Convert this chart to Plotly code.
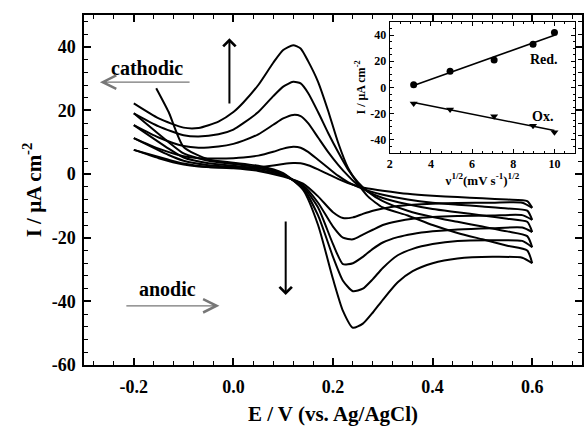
import numpy as np
import plotly.graph_objects as go

# ---------------- main cyclic voltammograms (E in V, I in uA cm-2) ----------------
# forward (anodic) sweep potentials, after each curve's own start point
FWD_E = [-0.13, -0.1, -0.05, 0.0, 0.05, 0.1, 0.14, 0.17, 0.2, 0.22, 0.24, 0.26,
         0.28, 0.3, 0.33, 0.36, 0.4, 0.45, 0.52, 0.58, 0.6]
# reverse (cathodic) sweep potentials
REV_E = [0.6, 0.59, 0.55, 0.5, 0.45, 0.4, 0.35, 0.3, 0.27, 0.25, 0.23, 0.21, 0.19,
         0.17, 0.15, 0.135, 0.12, 0.1, 0.08, 0.05, 0.02, 0.0, -0.03, -0.07, -0.1,
         -0.15, -0.2]

START_E = [-0.155, -0.2, -0.2, -0.2, -0.2]
START_I = [27.0, 19.1, 15.4, 11.3, 7.6]

fwd_c1 = [19.5, 8.5, 4.6, 3.6, 2.6, 0.3, -5, -16, -33, -43, -48.3, -47, -43.5,
          -39.5, -34, -30.5, -28, -26.5, -26, -26.3, -28]
fwd_c2 = [10, 6.5, 4.2, 3.2, 2.2, 0, -4.5, -13, -26, -33.5, -36.8, -36, -33,
          -29.5, -25.5, -23.5, -22, -21, -20.8, -21, -23]
fwd_c3 = [8, 5.2, 3.4, 2.6, 1.8, -0.2, -4, -10.5, -22, -28.3, -28, -26, -23.5,
          -21.5, -19.8, -18.8, -18, -17.4, -17, -16.8, -18.2]
fwd_c4 = [6, 4.2, 2.8, 2.2, 1.4, -0.5, -3.5, -9, -16.5, -20, -20.5, -19, -17.5,
          -16, -14.8, -14, -13.5, -13.2, -13, -12.9, -14.4]
fwd_c5 = [4.5, 3.3, 2.2, 1.8, 1, -0.8, -3, -7, -12, -13.8, -13.6, -12.5, -11.5,
          -10.8, -10, -9.6, -9.3, -9.1, -9, -9, -10.6]

rev_c1 = [-28, -24, -22.5, -20.5, -18.5, -16, -13, -10.5, -7, -3, 2, 10, 20, 29,
          35.5, 39.5, 40.5, 39, 35, 28, 22.5, 19.5, 16.5, 14.5, 14.6, 17.5, 22.2]
rev_c2 = [-23, -19.5, -18, -16.5, -15, -13.5, -11.5, -8.5, -5.5, -2.5, 1.5, 7, 13,
          19.5, 25.5, 28.5, 29, 27.5, 24.5, 19.5, 16, 14, 12.5, 11.8, 12.2, 15, 19.1]
rev_c3 = [-18.2, -15, -14, -13, -12, -11, -9.5, -7.5, -5.5, -3.5, -0.5, 3, 7, 11.5,
          16, 18.2, 18.6, 17.5, 15.5, 12.5, 10.5, 9.5, 8.7, 8.3, 8.8, 11.5, 15.4]
rev_c4 = [-14.4, -11.5, -10.8, -10.2, -9.6, -9, -8, -6.5, -5.2, -4, -2.5, -0.5, 2,
          4.5, 7, 8.3, 8.6, 8, 7, 5.8, 5.2, 5, 4.9, 5, 5.6, 8, 11.3]
rev_c5 = [-10.6, -8.5, -8, -7.6, -7.2, -6.8, -6.2, -5.2, -4.5, -3.8, -2.8, -1.5, 0,
          1.5, 2.8, 3.4, 3.5, 3.2, 2.7, 2.2, 2, 2, 2.1, 2.4, 3, 5, 7.6]

FWD = [fwd_c1, fwd_c2, fwd_c3, fwd_c4, fwd_c5]
REV = [rev_c1, rev_c2, rev_c3, rev_c4, rev_c5]

# ---------------- inset: peak current vs sqrt(scan rate) ----------------
sqrt_rate = [3.16, 4.93, 7.07, 8.96, 10.0]
red_I = [2.0, 12.4, 21.0, 33.0, 42.0]
ox_I = [-12.3, -16.9, -22.0, -29.3, -34.3]

# axis tick labels
x_ticks = [-0.2, 0.0, 0.2, 0.4, 0.6]
x_ticktext = ["-0.2", "0.0", "0.2", "0.4", "0.6"]
y_ticks = [-60, -40, -20, 0, 20, 40]
y_ticktext = ["-60", "-40", "-20", "0", "20", "40"]
ix_ticks = [2, 4, 6, 8, 10]
iy_ticks = [-40, -20, 0, 20, 40]
iy_ticktext = ["-40", "-20", "0", "20", "40"]

SERIF = "Liberation Serif"

fig = go.Figure()

for k in range(5):
    # forward branch (from start point), then reverse branch
    e_f = [START_E[k]] + FWD_E
    i_f = [START_I[k]] + FWD[k]
    fig.add_trace(go.Scatter(x=e_f, y=i_f, mode="lines",
                             line=dict(color="black", width=2, shape="spline", smoothing=0.6),
                             showlegend=False, hoverinfo="skip"))
    fig.add_trace(go.Scatter(x=REV_E, y=REV[k], mode="lines",
                             line=dict(color="black", width=2, shape="spline", smoothing=0.6),
                             showlegend=False, hoverinfo="skip"))

# inset fits
xs = np.array(sqrt_rate)
for vals, sym in [(red_I, "circle"), (ox_I, "triangle-down")]:
    p = np.polyfit(xs, np.array(vals), 1)
    xf = [xs.min(), xs.max()]
    fig.add_trace(go.Scatter(x=xf, y=list(np.polyval(p, xf)), mode="lines",
                             line=dict(color="black", width=1.6),
                             xaxis="x2", yaxis="y2", showlegend=False, hoverinfo="skip"))
    fig.add_trace(go.Scatter(x=sqrt_rate, y=vals, mode="markers",
                             marker=dict(symbol=sym, size=7, color="black"),
                             xaxis="x2", yaxis="y2", showlegend=False, hoverinfo="skip"))

tickfont = dict(family=SERIF, size=18, color="black", weight="bold")
itickfont = dict(family=SERIF, size=12, color="black", weight="bold")

fig.update_layout(
    width=584, height=432,
    margin=dict(l=84, r=0, t=15, b=67),
    paper_bgcolor="white", plot_bgcolor="white",
    xaxis=dict(range=[-0.3, 0.7], tickmode="array", tickvals=x_ticks, ticktext=x_ticktext,
               ticks="inside", ticklen=7, tickwidth=1.5, tickcolor="black",
               ticklabelstandoff=5,
               minor=dict(tickmode="linear", tick0=0, dtick=0.04, ticks="inside",
                          ticklen=4, tickwidth=1, tickcolor="black"),
               showline=True, linecolor="black", linewidth=1.5, mirror="allticks",
               showgrid=False, zeroline=False, tickfont=tickfont,
               title=dict(text="E / V (vs. Ag/AgCl)", standoff=10,
                          font=dict(family=SERIF, size=21, color="black", weight="bold"))),
    yaxis=dict(range=[-60, 50], tickmode="array", tickvals=y_ticks, ticktext=y_ticktext,
               ticks="inside", ticklen=7, tickwidth=1.5, tickcolor="black",
               ticklabelstandoff=3,
               minor=dict(tickmode="linear", tick0=0, dtick=4, ticks="inside",
                          ticklen=4, tickwidth=1, tickcolor="black"),
               showline=True, linecolor="black", linewidth=1.5, mirror="allticks",
               showgrid=False, zeroline=False, tickfont=tickfont,
               title=dict(text="I / μA cm<sup>-2</sup>", standoff=4,
                          font=dict(family=SERIF, size=21, color="black", weight="bold"))),
    xaxis2=dict(domain=[0.614, 0.986], anchor="y2", range=[2, 11],
                tickmode="array", tickvals=ix_ticks,
                ticks="inside", ticklen=4, tickwidth=1, tickcolor="black",
                minor=dict(tickmode="linear", tick0=0, dtick=0.5, ticks="inside",
                           ticklen=2, tickwidth=1, tickcolor="black"),
                showline=True, linecolor="black", linewidth=1, mirror="allticks",
                showgrid=False, zeroline=False, tickfont=itickfont,
                title=dict(text="ν<sup>1/2</sup>(mV s<sup>-1</sup>)<sup>1/2</sup>", standoff=2,
                           font=dict(family=SERIF, size=13, color="black", weight="bold"))),
    yaxis2=dict(domain=[0.606, 0.98], anchor="x2", range=[-50, 50],
                tickmode="array", tickvals=iy_ticks, ticktext=iy_ticktext,
                ticks="inside", ticklen=4, tickwidth=1, tickcolor="black",
                minor=dict(tickmode="linear", tick0=0, dtick=5, ticks="inside",
                           ticklen=2, tickwidth=1, tickcolor="black"),
                showline=True, linecolor="black", linewidth=1, mirror="allticks",
                showgrid=False, zeroline=False, tickfont=itickfont,
                title=dict(text="I / μA cm<sup>-2</sup>", standoff=2,
                           font=dict(family=SERIF, size=12, color="black", weight="bold"))),
)

# inset background
fig.add_shape(type="rect", xref="x2 domain", yref="y2 domain", x0=0, x1=1, y0=0, y1=1,
              fillcolor="white", line=dict(width=0), layer="below")

lab = dict(family=SERIF, color="black", weight="bold")
fig.add_annotation(x=9.5, y=21.7, xref="x2", yref="y2", text="Red.", showarrow=False,
                   font=dict(size=14, **lab))
fig.add_annotation(x=9.4, y=-22.2, xref="x2", yref="y2", text="Ox.", showarrow=False,
                   font=dict(size=14, **lab))

fig.add_annotation(x=-0.174, y=33.3, xref="x", yref="y", text="cathodic", showarrow=False,
                   font=dict(size=20, **lab))
fig.add_annotation(x=-0.133, y=-36.1, xref="x", yref="y", text="anodic", showarrow=False,
                   font=dict(size=20, **lab))

# direction arrows
arrows = [
    dict(x=-0.268, y=28.9, ax=-0.085, ay=28.9, color="#777777", width=1.2, head=5, size=2.2),
    dict(x=-0.028, y=-41.4, ax=-0.218, ay=-41.4, color="#777777", width=1.2, head=5, size=2.2),
    dict(x=-0.008, y=42.7, ax=-0.008, ay=21.7, color="black", width=2, head=4, size=1.2),
    dict(x=0.105, y=-38.0, ax=0.105, ay=-14.4, color="black", width=2, head=4, size=1.2),
]
for a in arrows:
    fig.add_annotation(x=a["x"], y=a["y"], ax=a["ax"], ay=a["ay"], xref="x", yref="y",
                       axref="x", ayref="y", text="", showarrow=True,
                       arrowhead=a["head"], arrowsize=a["size"], arrowwidth=a["width"],
                       arrowcolor=a["color"])

fig.write_html("out.html")
